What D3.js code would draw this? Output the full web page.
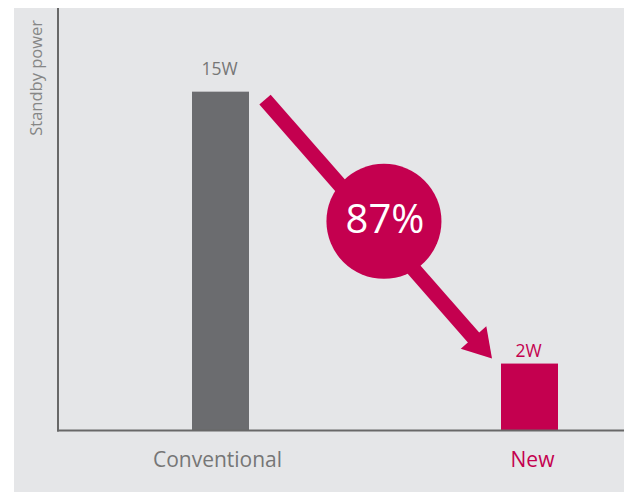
<!DOCTYPE html>
<html>
<head>
<meta charset="utf-8">
<script src="https://cdn.jsdelivr.net/npm/d3@7"></script>
<style>
  html, body { margin: 0; padding: 0; background: #ffffff; }
  svg { display: block; font-family: "Open Sans", "Noto Sans", sans-serif; }
</style>
</head>
<body>
<svg id="chart" width="624" height="493"></svg>
<script>
// ---- data ----
const categories = ["Conventional", "New"];
const values = [15, 2];
const valueLabels = ["15W", "2W"];
const axisTitle = "Standby power";

// ---- layout ----
const W = 624, H = 493;
const panel = { x: 14, y: 8, w: 610, h: 484 };
const plot = { left: 58, right: 624, top: 8, bottom: 430.5 };
const barW = 57;
const grayBar = "#6b6c6f";
const crimson = "#c4004f";
const textGray = "#767676";

const svg = d3.select("#chart");

svg.append("rect")
  .attr("x", panel.x).attr("y", panel.y)
  .attr("width", panel.w).attr("height", panel.h)
  .attr("fill", "#e5e6e8");

const x = d3.scalePoint().domain(categories).range([220.5, 529.5]);
// bars drawn from the axis baseline (chart is illustrative, baseline below zero)
const y = d3.scaleLinear().domain([-1.2, 19]).range([plot.bottom, plot.top]);

const colors = [grayBar, crimson];

// bars
svg.selectAll("rect.bar")
  .data(values)
  .join("rect")
  .attr("class", "bar")
  .attr("x", (d, i) => x(categories[i]) - barW / 2)
  .attr("width", barW)
  .attr("y", d => y(d))
  .attr("height", d => plot.bottom - y(d))
  .attr("fill", (d, i) => colors[i]);

// axes
svg.append("line")
  .attr("x1", plot.left).attr("x2", plot.left)
  .attr("y1", plot.top).attr("y2", plot.bottom + 1)
  .attr("stroke", "#686868").attr("stroke-width", 2);
svg.append("line")
  .attr("x1", plot.left - 1).attr("x2", plot.right)
  .attr("y1", plot.bottom).attr("y2", plot.bottom)
  .attr("stroke", "#686868").attr("stroke-width", 2);

// value labels
const labelGap = [17, 7];
svg.selectAll("text.val")
  .data(values)
  .join("text")
  .attr("class", "val")
  .attr("x", (d, i) => x(categories[i]) - 1)
  .attr("y", (d, i) => y(d) - labelGap[i])
  .attr("text-anchor", "middle")
  .attr("font-size", 17.5)
  .attr("fill", (d, i) => i === 0 ? textGray : crimson)
  .text((d, i) => valueLabels[i]);

// category labels
svg.selectAll("text.cat")
  .data(categories)
  .join("text")
  .attr("class", "cat")
  .attr("x", (d, i) => x(d) + (i === 0 ? -3 : 3))
  .attr("y", 467)
  .attr("text-anchor", "middle")
  .attr("font-size", 21)
  .attr("fill", (d, i) => i === 0 ? textGray : crimson)
  .text(d => d);

// y axis title
svg.append("text")
  .attr("transform", "translate(42,20) rotate(-90)")
  .attr("text-anchor", "end")
  .attr("font-size", 16.5)
  .attr("fill", "#868686")
  .text(axisTitle);

// arrow
const start = { x: x(categories[0]) + barW / 2 + 16, y: y(values[0]) + 8 };
const tip = { x: x(categories[1]) - barW / 2 - 9, y: y(values[1]) - 5 };
const dx = tip.x - start.x, dy = tip.y - start.y;
const len = Math.hypot(dx, dy);
const u = { x: dx / len, y: dy / len };
const n = { x: u.y, y: -u.x };
const headLen = 28, headHalf = 17, shaftW = 15;
const base = { x: tip.x - headLen * u.x, y: tip.y - headLen * u.y };

svg.append("line")
  .attr("x1", start.x).attr("y1", start.y)
  .attr("x2", base.x + u.x * 2).attr("y2", base.y + u.y * 2)
  .attr("stroke", crimson).attr("stroke-width", shaftW);

svg.append("path")
  .attr("d", d3.line()([
    [base.x + headHalf * n.x, base.y + headHalf * n.y],
    [tip.x, tip.y],
    [base.x - headHalf * n.x, base.y - headHalf * n.y]
  ]) + "Z")
  .attr("fill", crimson);

// reduction badge
const reduction = Math.round((values[0] - values[1]) / values[0] * 100);
const t = 0.524;
const c = { x: start.x + t * dx, y: start.y + t * dy - 14 };
svg.append("circle")
  .attr("cx", c.x).attr("cy", c.y).attr("r", 57.5)
  .attr("fill", crimson);
svg.append("text")
  .attr("x", c.x + 1).attr("y", c.y + 12)
  .attr("text-anchor", "middle")
  .attr("font-size", 40)
  .attr("fill", "#ffffff")
  .text(reduction + "%");
</script>
</body>
</html>
